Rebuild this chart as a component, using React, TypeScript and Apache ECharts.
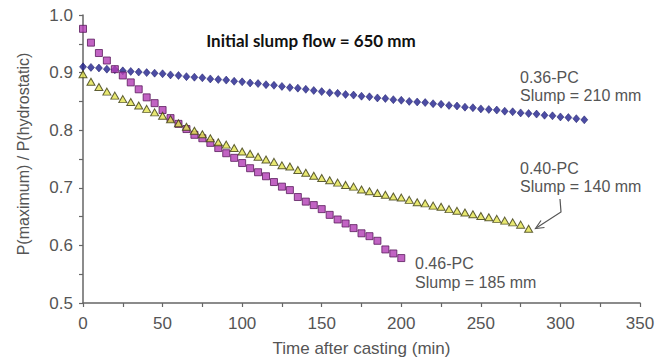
import React, { useEffect, useRef } from "react";
import * as echarts from "echarts";

// Time after casting (min)
const times = [
  0, 5, 10, 15, 20, 25, 30, 35, 40, 45, 50, 55, 60, 65, 70, 75, 80, 85, 90, 95,
  100, 105, 110, 115, 120, 125, 130, 135, 140, 145, 150, 155, 160, 165, 170, 175,
  180, 185, 190, 195, 200, 205, 210, 215, 220, 225, 230, 235, 240, 245, 250, 255,
  260, 265, 270, 275, 280, 285, 290, 295, 300, 305, 310, 315,
];

// 0.36-PC, Slump = 210 mm
const pc036 = [
  0.910, 0.909, 0.908, 0.906, 0.905, 0.903, 0.902, 0.901, 0.900, 0.899,
  0.898, 0.896, 0.895, 0.893, 0.892, 0.891, 0.889, 0.888, 0.887, 0.885,
  0.884, 0.882, 0.881, 0.879, 0.878, 0.876, 0.874, 0.873, 0.871, 0.869,
  0.867, 0.865, 0.864, 0.862, 0.861, 0.859, 0.858, 0.856, 0.855, 0.853,
  0.852, 0.850, 0.849, 0.848, 0.846, 0.845, 0.843, 0.842, 0.840, 0.839,
  0.837, 0.836, 0.835, 0.833, 0.832, 0.830, 0.829, 0.828, 0.826, 0.825,
  0.823, 0.822, 0.820, 0.818,
];

// 0.40-PC, Slump = 140 mm
const pc040 = [
  0.897, 0.884, 0.875, 0.867, 0.860, 0.854, 0.849, 0.843, 0.837, 0.831,
  0.825, 0.819, 0.812, 0.806, 0.799, 0.793, 0.786, 0.779, 0.775, 0.769,
  0.763, 0.759, 0.754, 0.749, 0.745, 0.739, 0.737, 0.731, 0.726, 0.721,
  0.717, 0.713, 0.709, 0.705, 0.702, 0.697, 0.694, 0.691, 0.688, 0.685,
  0.683, 0.679, 0.675, 0.673, 0.669, 0.667, 0.663, 0.660, 0.657, 0.654,
  0.651, 0.649, 0.646, 0.643, 0.640, 0.636, 0.629,
];

// 0.46-PC, Slump = 185 mm
const pc046 = [
  0.976, 0.952, 0.934, 0.921, 0.906, 0.895, 0.883, 0.871, 0.857, 0.847,
  0.835, 0.821, 0.811, 0.802, 0.792, 0.786, 0.778, 0.769, 0.760, 0.752,
  0.743, 0.734, 0.727, 0.720, 0.710, 0.702, 0.696, 0.684, 0.676, 0.670,
  0.663, 0.653, 0.645, 0.638, 0.630, 0.621, 0.616, 0.608, 0.593, 0.586,
  0.578,
];

const xTicks = { min: 0, max: 350, interval: 50 };
const yTicks = { min: 0.5, max: 1.0, interval: 0.1 };

const title = "Initial slump flow = 650 mm";
const xName = "Time after casting (min)";
const yName = "P(maximum) / P(hydrostatic)";
const label036 = ["0.36-PC", "Slump = 210 mm"];
const label040 = ["0.40-PC", "Slump = 140 mm"];
const label046 = ["0.46-PC", "Slump = 185 mm"];

const pairs = (vals: number[]) => vals.map((v, i) => [times[i], v]);

export default function App() {
  const ref = useRef<HTMLDivElement>(null);
  useEffect(() => {
    if (!ref.current) return;
    const chart = echarts.init(ref.current, undefined, { renderer: "svg" });
    const axisColor = "#666";
    const textColor = "#555";
    const font = "'Liberation Sans', Arial, sans-serif";
    const annoStyle = {
      fill: textColor,
      fontSize: 16,
      fontFamily: font,
      textAlign: "left" as const,
      textVerticalAlign: "middle" as const,
    };
    chart.setOption({
      animation: false,
      backgroundColor: "#fff",
      grid: { left: 83, right: 21, top: 15, bottom: 59, containLabel: false },
      xAxis: {
        type: "value",
        min: xTicks.min,
        max: xTicks.max,
        interval: xTicks.interval,
        name: xName,
        nameLocation: "middle",
        nameGap: 37,
        nameTextStyle: { color: textColor, fontSize: 17, fontFamily: font },
        axisLine: { show: true, onZero: false, lineStyle: { color: axisColor, width: 1.5 } },
        axisTick: { show: true, length: 4, lineStyle: { color: axisColor, width: 1.2 } },
        minorTick: { show: true, splitNumber: 2, length: 4, lineStyle: { color: axisColor, width: 1.2 } },
        splitLine: { show: false },
        axisLabel: { color: textColor, fontSize: 17, fontFamily: font, margin: 12 },
      },
      yAxis: {
        type: "value",
        min: yTicks.min,
        max: yTicks.max,
        interval: yTicks.interval,
        axisLine: { show: true, onZero: false, lineStyle: { color: axisColor, width: 1.5 } },
        axisTick: { show: true, length: 4, lineStyle: { color: axisColor, width: 1.2 } },
        minorTick: { show: true, splitNumber: 2, length: 4, lineStyle: { color: axisColor, width: 1.2 } },
        splitLine: { show: false },
        axisLabel: {
          color: textColor,
          fontSize: 17,
          fontFamily: font,
          margin: 10,
          formatter: (v: number) => v.toFixed(1),
        },
      },
      series: [
        {
          name: "0.36-PC",
          type: "scatter",
          data: pairs(pc036),
          symbol: "diamond",
          symbolSize: [7, 8],
          itemStyle: { color: "#1f1f8c", borderColor: "#141460", borderWidth: 0.6 },
        },
        {
          name: "0.46-PC",
          type: "scatter",
          data: pairs(pc046),
          symbol: "rect",
          symbolSize: 7,
          itemStyle: { color: "#b23cb4", borderColor: "#5a1a5c", borderWidth: 1 },
        },
        {
          name: "0.40-PC",
          type: "scatter",
          data: pairs(pc040),
          symbol: "triangle",
          symbolSize: [8, 7],
          itemStyle: { color: "#e2e24e", borderColor: "#3a3a10", borderWidth: 1 },
        },
      ],
      graphic: [
        {
          type: "text",
          style: {
            text: title,
            x: 311,
            y: 40,
            fill: "#111",
            fontSize: 17,
            fontWeight: "bold",
            fontFamily: "Lato, 'Open Sans', sans-serif",
            textAlign: "center",
            textVerticalAlign: "middle",
          },
        },
        {
          type: "text",
          rotation: Math.PI / 2,
          x: 23,
          y: 154,
          style: {
            text: yName,
            fill: textColor,
            fontSize: 16,
            fontFamily: font,
            textAlign: "center",
            textVerticalAlign: "middle",
          },
        },
        { type: "text", style: { ...annoStyle, text: label036[0], x: 520, y: 77 } },
        { type: "text", style: { ...annoStyle, text: label036[1], x: 520, y: 95 } },
        { type: "text", style: { ...annoStyle, text: label040[0], x: 520, y: 168 } },
        { type: "text", style: { ...annoStyle, text: label040[1], x: 520, y: 186 } },
        { type: "text", style: { ...annoStyle, text: label046[0], x: 415, y: 263 } },
        { type: "text", style: { ...annoStyle, text: label046[1], x: 415, y: 282 } },
        {
          type: "polyline",
          shape: { points: [[560, 199], [561, 212], [537, 227.5]] },
          style: { stroke: "#555", lineWidth: 1.2, fill: "none" },
        },
        {
          type: "polyline",
          shape: { points: [[541, 220.5], [535.5, 228.5], [544.5, 227.5]] },
          style: { stroke: "#555", lineWidth: 1.2, fill: "none" },
        },
      ],
    });
    return () => chart.dispose();
  }, []);
  return (
    <div
      ref={ref}
      style={{ position: "fixed", left: 0, top: 0, width: 661, height: 362, background: "#fff" }}
    />
  );
}
